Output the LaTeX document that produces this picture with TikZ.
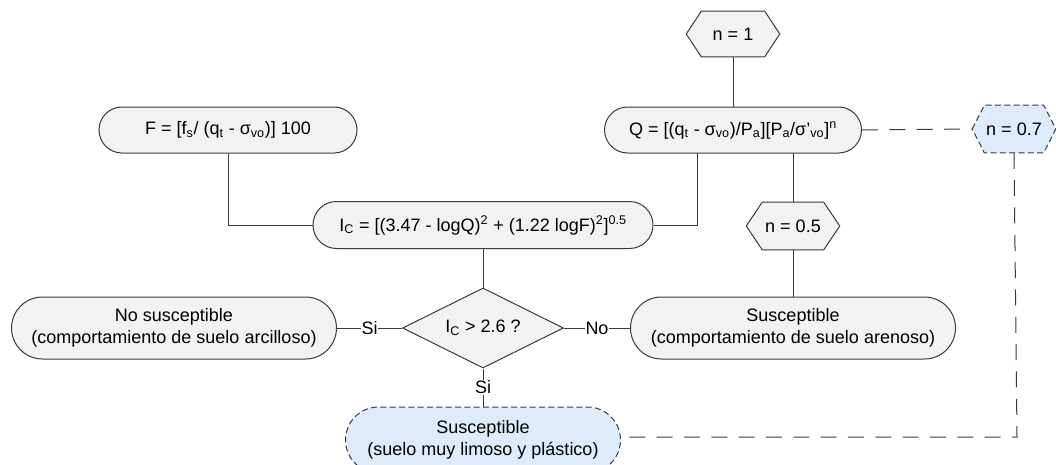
\documentclass[tikz,border=0pt]{standalone}
\usepackage{fontspec}
\setmainfont{Liberation Sans}
\usetikzlibrary{shapes.misc,shapes.geometric,backgrounds,calc}
\definecolor{gfill}{HTML}{F2F2F2}
\definecolor{bfill}{HTML}{DDEBFA}
\definecolor{edge}{HTML}{3A3A3A}
\tikzset{
  every node/.style={font=\fontsize{13.5}{16}\selectfont, align=center, inner sep=0pt},
  term/.style={rounded rectangle, draw=edge, fill=gfill, line width=0.75pt},
  blueterm/.style={rounded rectangle, draw=edge, fill=bfill, line width=0.75pt, dash pattern=on 4.5pt off 2.5pt},
  hexbox/.style={rectangle, draw=none},
  hexline/.style={draw=edge, fill=gfill, line width=0.75pt},
  bluehexline/.style={draw=edge, fill=bfill, line width=0.75pt, dash pattern=on 4.5pt off 2.5pt},
  decision/.style={diamond, aspect=2, draw=edge, fill=gfill, line width=0.75pt},
  conn/.style={draw=edge, line width=0.75pt},
  longdash/.style={conn, dash pattern=on 12pt off 8.5pt},
  lab/.style={fill=white, inner xsep=0.6pt, inner ysep=0.8pt}
}
\newcommand\hexdraw[3]{%
  \path[#3] (#1.west) -- ([xshift=#2*0.75pt]#1.north west) -- ([xshift=-#2*0.75pt]#1.north east)
    -- (#1.east) -- ([xshift=-#2*0.75pt]#1.south east) -- ([xshift=#2*0.75pt]#1.south west) -- cycle;}
\begin{document}
\begin{tikzpicture}[x=0.75pt,y=-0.75pt]
\useasboundingbox (0,0) rectangle (1056,464);
% hexagon nodes (text holders)
\node[hexbox, minimum width=93*0.75pt, minimum height=45*0.75pt] (n1) at (733,34) {n = 1};
\node[hexbox, minimum width=93*0.75pt, minimum height=47*0.75pt] (n05) at (793,226) {n = 0.5};
\node[hexbox, minimum width=83*0.75pt, minimum height=47*0.75pt] (n07) at (1014,129) {n = 0.7};
\begin{scope}[on background layer]
  \hexdraw{n1}{15}{hexline}
  \hexdraw{n05}{16}{hexline}
  \hexdraw{n07}{12}{bluehexline}
\end{scope}
% terminals
\node[term, minimum width=257*0.75pt, minimum height=46*0.75pt] (Q) at (733,130)
  {Q = [(q\textsubscript{t} - σ\textsubscript{vo})/P\textsubscript{a}][P\textsubscript{a}/σ’\textsubscript{vo}]\textsuperscript{n}};
\node[term, minimum width=258*0.75pt, minimum height=46*0.75pt] (F) at (228,130)
  {F = [f\textsubscript{s}/ (q\textsubscript{t} - σ\textsubscript{vo})] 100};
\node[term, minimum width=340*0.75pt, minimum height=47*0.75pt] (Ic) at (483,225)
  {I\textsubscript{C} = [(3.47 - logQ)\textsuperscript{2} + (1.22 logF)\textsuperscript{2}]\textsuperscript{0.5}};
\node[decision, minimum width=161*0.75pt, minimum height=80*0.75pt] (dec) at (483,328)
  {I\textsubscript{C} > 2.6 ?};
\node[term, minimum width=325*0.75pt, minimum height=62*0.75pt] (nosus) at (174,328)
  {No susceptible\\(comportamiento de suelo arcilloso)};
\node[term, minimum width=325*0.75pt, minimum height=62*0.75pt] (sus) at (793,328)
  {Susceptible\\(comportamiento de suelo arenoso)};
\node[blueterm, minimum width=275*0.75pt, minimum height=66*0.75pt] (blue) at (483,440)
  {Susceptible\\(suelo muy limoso y plástico)};
% connectors
\coordinate (qa) at (697,153);
\coordinate (qb) at (793,153);
\coordinate (bc) at (1017,437);
\draw[conn] (n1.south) -- (Q.north);
\draw[conn] (Ic.east) -| (qa);
\draw[conn] (F.south) |- (Ic.west);
\draw[conn] (qb) -- (n05.north);
\draw[conn] (n05.south) -- (sus.north);
\draw[conn] (Ic.south) -- (dec.north);
\draw[conn] (dec.west) -- node[lab] {Si} (nosus.east);
\draw[conn] (dec.east) -- node[lab] {No} (sus.west);
\draw[conn] (dec.south) -- node[lab] {Si} (blue.north);
\draw[longdash] (Q.east) -- (n07.west);
\draw[longdash] (n07.south) -- (bc) -- (bc -| blue.east);
\end{tikzpicture}
\end{document}
